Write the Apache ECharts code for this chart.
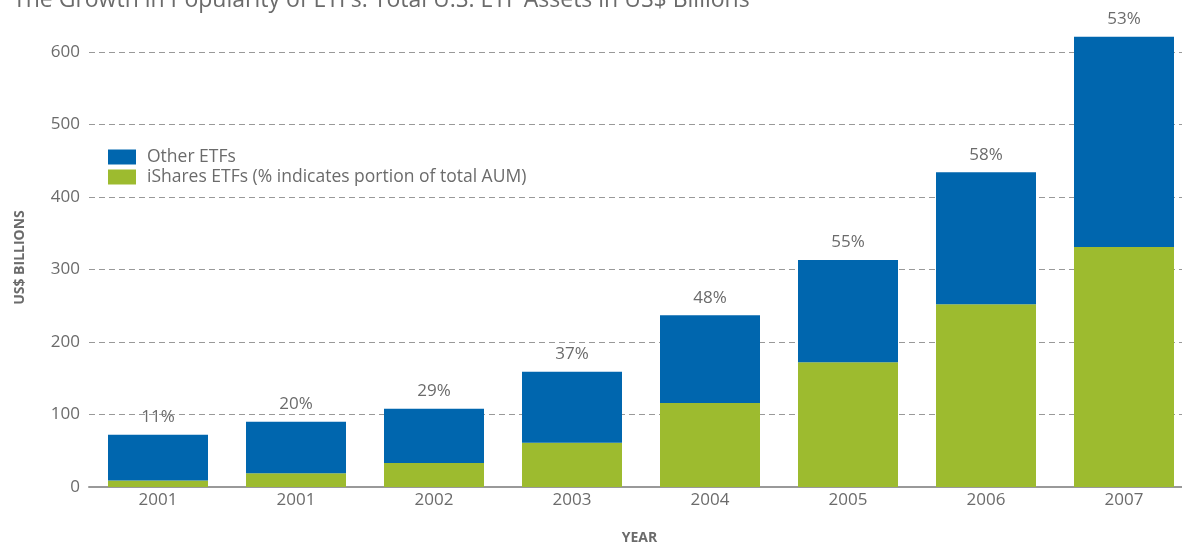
<!DOCTYPE html>
<html>
<head>
<meta charset="utf-8">
<script src="https://cdn.jsdelivr.net/npm/echarts@6/dist/echarts.min.js"></script>
<style>
  html, body { margin: 0; padding: 0; background: #fff; }
  #chart { width: 1182px; height: 544px; }
</style>
</head>
<body>
<div id="chart"></div>
<script>
// years as printed on the chart (2001 appears twice in the source)
const years = ['2001', '2001', '2002', '2003', '2004', '2005', '2006', '2007'];
const ishares = [9, 19, 33, 61, 116, 172, 252, 331];
const otherEtfs = [63, 71, 75, 98, 121, 141, 182, 290];
const sharePct = ['11%', '20%', '29%', '37%', '48%', '55%', '58%', '53%'];
const yTicks = [0, 100, 200, 300, 400, 500, 600];

const grey = '#6b6b6b';
const font = '"Open Sans", "Noto Sans", sans-serif';

var chart = echarts.init(document.getElementById('chart'));
chart.setOption({
  animation: false,
  textStyle: { fontFamily: font },
  title: {
    text: 'The Growth in Popularity of ETFs: Total U.S. ETF Assets in US$ Billions',
    left: 8,
    top: -16,
    textStyle: { color: grey, fontSize: 23, fontWeight: 'normal', fontFamily: font }
  },
  legend: {
    orient: 'vertical',
    left: 103,
    top: 143,
    itemWidth: 28,
    itemHeight: 15,
    itemGap: 2,
    icon: 'rect',
    data: ['Other ETFs', 'iShares ETFs (% indicates portion of total AUM)'],
    textStyle: { color: grey, fontSize: 17.5, lineHeight: 17, fontFamily: font, padding: [0, 0, 0, 6] }
  },
  grid: {
    left: 89,
    top: 52,
    width: 1104,
    height: 435,
    outerBoundsMode: 'none'
  },
  xAxis: {
    type: 'category',
    data: years,
    name: 'YEAR',
    nameLocation: 'middle',
    nameGap: 44,
    nameTextStyle: { color: grey, fontSize: 14, fontWeight: 'bold', padding: [0, 0, 0, -3] },
    axisTick: { show: false },
    axisLine: { lineStyle: { color: '#999', width: 2 } },
    axisLabel: { color: grey, fontSize: 17, margin: 5 }
  },
  yAxis: {
    type: 'value',
    min: yTicks[0],
    max: yTicks[yTicks.length - 1],
    interval: 100,
    name: 'US$ BILLIONS',
    nameLocation: 'middle',
    nameGap: 62,
    nameTextStyle: { color: grey, fontSize: 14, fontWeight: 'bold', padding: [0, 0, 0, 24] },
    axisLine: { show: false },
    axisTick: { show: false },
    axisLabel: { color: grey, fontSize: 17, margin: 9 },
    splitLine: { lineStyle: { color: '#999', type: [6, 4], width: 1 } }
  },
  series: [{
    name: 'iShares ETFs (% indicates portion of total AUM)',
    type: 'bar',
    stack: 'total',
    clip: false,
    data: ishares,
    barWidth: 100,
    itemStyle: { color: '#9dbb2f' }
  }, {
    name: 'Other ETFs',
    type: 'bar',
    stack: 'total',
    clip: false,
    data: otherEtfs,
    barWidth: 100,
    itemStyle: { color: '#0066ae' },
    label: {
      show: true,
      position: 'top',
      distance: 9,
      color: grey,
      fontSize: 17,
      formatter: function (p) { return sharePct[p.dataIndex]; }
    }
  }]
});
</script>
</body>
</html>
